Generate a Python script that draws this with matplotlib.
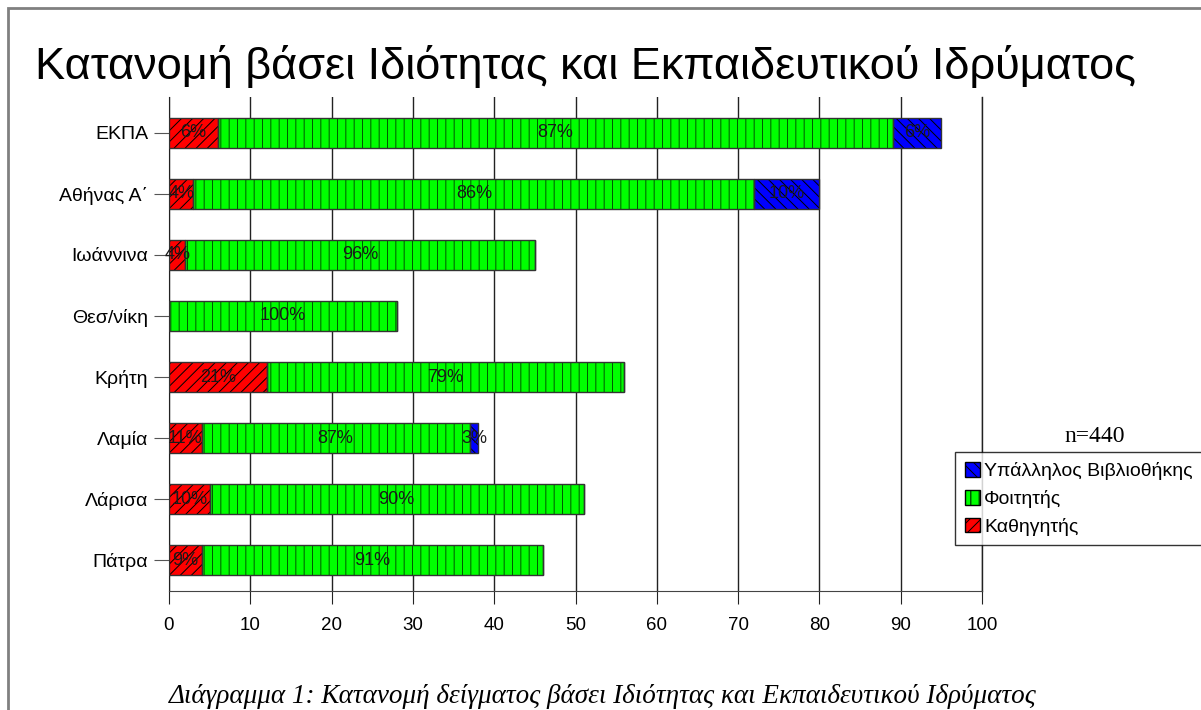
import matplotlib
matplotlib.use('Agg')
import matplotlib.pyplot as plt
from matplotlib.patches import Patch, Rectangle

# Δεδομένα (πλήθος ατόμων ανά ίδρυμα και ιδιότητα)
institutions = ['ΕΚΠΑ', 'Αθήνας Α΄', 'Ιωάννινα', 'Θεσ/νίκη', 'Κρήτη', 'Λαμία', 'Λάρισα', 'Πάτρα']
professors = [6, 3, 2, 0, 12, 4, 5, 4]
students = [83, 69, 43, 28, 44, 33, 46, 42]
librarians = [6, 8, 0, 0, 0, 1, 0, 0]
series_names = ['Καθηγητής', 'Φοιτητής', 'Υπάλληλος Βιβλιοθήκης']
x_ticks = [0, 10, 20, 30, 40, 50, 60, 70, 80, 90, 100]

plt.rcParams['font.family'] = ['Liberation Sans', 'DejaVu Sans']
plt.rcParams['hatch.linewidth'] = 0.7

W, H = 1201, 710
fig = plt.figure(figsize=(W / 100, H / 100), dpi=100)

# περίγραμμα
fig.patches.append(Rectangle((8 / W, -0.1), 1.2, 1.1 - 8 / H, transform=fig.transFigure,
                             fill=False, edgecolor='#808080', lw=2))

ax = fig.add_axes([169 / W, 1 - 591 / H, (982 - 169) / W, (591 - 97) / H])

styles = [
    # facecolor, hatch, hatch color
    ('#ff0000', '///', '#000000'),
    ('#00ff00', '||', '#005500'),
    ('#0000ff', '\\\\\\', '#000000'),
]
data = [professors, students, librarians]
y = list(range(len(institutions)))
bh = 0.5

totals = [p + s + l for p, s, l in zip(professors, students, librarians)]
left = [0] * len(institutions)
for vals, (fc, hatch, hc) in zip(data, styles):
    ax.barh(y, vals, left=left, height=bh, color=fc, hatch=hatch, edgecolor=hc, lw=0, zorder=3)
    ax.barh(y, vals, left=left, height=bh, fill=False, edgecolor='#333333', lw=1, zorder=4)
    for i, v in enumerate(vals):
        if v > 0:
            pct = round(100 * v / totals[i])
            ax.text(left[i] + v / 2, y[i], f'{pct}%', ha='center', va='center',
                    fontsize=13, color='#1a1a1a', zorder=5)
    left = [a + b for a, b in zip(left, vals)]

ax.set_xlim(0, 100)
ax.set_ylim(7.508, -0.59)
ax.set_xticks(x_ticks)
ax.set_yticks(y)
ax.set_yticklabels(institutions)
ax.tick_params(axis='y', length=11, color='#555555', labelsize=14, pad=4)
ax.tick_params(axis='x', length=9, color='#222222', labelsize=13.5, pad=10)
ax.grid(axis='x', color='#222222', lw=1, zorder=1)
ax.axvline(100, color='#222222', lw=1, zorder=1, clip_on=False)
for s in ['top', 'right']:
    ax.spines[s].set_visible(False)
ax.spines['left'].set_color('#222222')
ax.spines['bottom'].set_color('#444444')

fig.text(35 / W, 1 - 79 / H, 'Κατανομή βάσει Ιδιότητας και Εκπαιδευτικού Ιδρύματος',
         fontsize=32.5, va='baseline', ha='left')

# υπόμνημα
handles = [Patch(facecolor=st[0], hatch=st[1], edgecolor='#000000') for st in styles]
order = [2, 1, 0]
leg = fig.legend([handles[i] for i in order], [series_names[i] for i in order],
                 loc='upper left', bbox_to_anchor=(955 / W, 1 - 452 / H),
                 fontsize=14, frameon=True, fancybox=False, borderpad=0.5,
                 handlelength=0.8, handleheight=0.8, handletextpad=0.2,
                 labelspacing=0.5, borderaxespad=0)
leg.get_frame().set_edgecolor('#000000')
leg.get_frame().set_linewidth(1)
leg.get_frame().set_boxstyle('square', pad=0)

fig.text(1095 / W, 1 - 437 / H, 'n=440', family='Liberation Serif', fontsize=17,
         ha='center', va='center')

fig.text(603 / W, 1 - 703 / H,
         'Διάγραμμα 1: Κατανομή δείγματος βάσει Ιδιότητας και Εκπαιδευτικού Ιδρύματος',
         family='Liberation Serif', style='italic', fontsize=19.5, ha='center', va='baseline')

fig.savefig('out.png', dpi=100)
